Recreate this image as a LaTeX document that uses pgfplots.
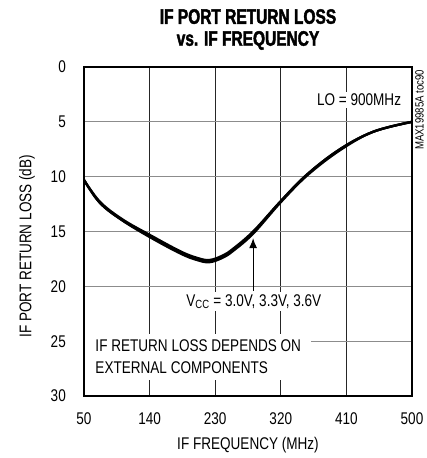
\documentclass[border=0pt]{standalone}
\usepackage{fontspec}
\setmainfont{Liberation Sans}[FakeStretch=0.8]
\newfontfamily\titlefont{Liberation Sans Bold}[FakeStretch=0.74,FakeBold=2]
\usepackage{pgfplots}
\usepackage{pgfplotstable}
\pgfplotsset{compat=1.18}
\usetikzlibrary{arrows.meta}

% return loss (dB) vs IF frequency (MHz), three supply voltages
\pgfplotstableread{
f    rl
50   10.3
72   12.3
103  13.9
140  15.3
182  16.8
205  17.4
222  17.6
240  17.2
254  16.6
282  15.0
319  12.3
356  9.8
401  7.5
447  5.9
500  5.0
}\vccA
\pgfplotstableread{
f    rl
50   10.3
72   12.4
103  14.0
140  15.5
182  17.0
205  17.6
222  17.8
240  17.4
254  16.8
282  15.2
319  12.4
356  9.9
401  7.6
447  5.9
500  5.0
}\vccB
\pgfplotstableread{
f    rl
50   10.3
72   12.4
103  14.0
140  15.4
182  16.9
205  17.5
222  17.7
240  17.3
254  16.7
282  15.1
319  12.3
356  9.8
401  7.5
447  5.9
500  5.0
}\vccC

\begin{document}
\begin{tikzpicture}
\begin{axis}[
    scale only axis,
    width=328bp, height=329bp,
    xmin=50, xmax=500,
    ymin=0, ymax=30,
    y dir=reverse,
    xtick={50,140,...,500},
    ytick={0,5,...,30},
    grid=major,
    x grid style={black!85, line width=0.8bp},
    y grid style={black!45, line width=0.8bp},
    axis line style={line width=2.6bp},
    major tick length=0pt,
    tick style={draw=none},
    /pgf/number format/assume math mode=true,
    tick label style={font=\fontsize{17}{20}\selectfont, inner sep=0pt},
    x tick label style={yshift=-16bp},
    y tick label style={xshift=-18bp},
    xlabel={IF FREQUENCY (MHz)},
    ylabel={IF PORT RETURN LOSS (dB)},
    every axis x label/.style={at={(axis description cs:0.5,0)}, yshift=-49bp, anchor=center,
                               font=\fontsize{17}{20}\selectfont},
    every axis y label/.style={at={(axis description cs:0,0.455)}, xshift=-57bp, rotate=90, anchor=center,
                               font=\fontsize{17}{20}\selectfont},
    title={IF PORT RETURN LOSS\\vs. IF FREQUENCY},
    title style={at={(axis description cs:0.5,1)}, anchor=south, yshift=11bp, align=center,
                 font=\titlefont\fontsize{21}{22}\selectfont, inner sep=0pt},
]
\addplot[line width=2.3bp, black, smooth, tension=0.6] table[x=f, y=rl] {\vccA};
\addplot[line width=2.3bp, black, smooth, tension=0.6] table[x=f, y=rl] {\vccB};
\addplot[line width=2.3bp, black, smooth, tension=0.6] table[x=f, y=rl] {\vccC};

\node[fill=white, inner sep=2bp, anchor=east, font=\fontsize{17}{20}\selectfont]
    at (axis cs:488,3) {LO = 900MHz};
\draw[line width=1.2bp, -{Latex[length=10bp, width=8bp]}] (axis cs:282,20.4) -- (axis cs:282,15.6);
\node[fill=white, inner sep=2bp, font=\fontsize{17}{20}\selectfont]
    at (axis cs:283,21.4) {V\textsubscript{CC} = 3.0V, 3.3V, 3.6V};
\node[fill=white, anchor=north west, align=left, inner xsep=10bp, inner ysep=6bp,
      font=\fontsize{17}{22}\selectfont]
    at ([xshift=1.3bp]axis cs:50,24.3) {IF RETURN LOSS DEPENDS ON\\EXTERNAL COMPONENTS};
\end{axis}
\node[rotate=90, anchor=north east, inner sep=0pt, font=\fontsize{12}{13}\selectfont]
    at ([xshift=3bp, yshift=-3bp]current axis.north east) {MAX19985A toc90};
\pgfresetboundingbox
\path ([shift={(-84bp,-62bp)}]current axis.south west) rectangle ([shift={(15bp,67bp)}]current axis.north east);
\end{tikzpicture}
\end{document}
